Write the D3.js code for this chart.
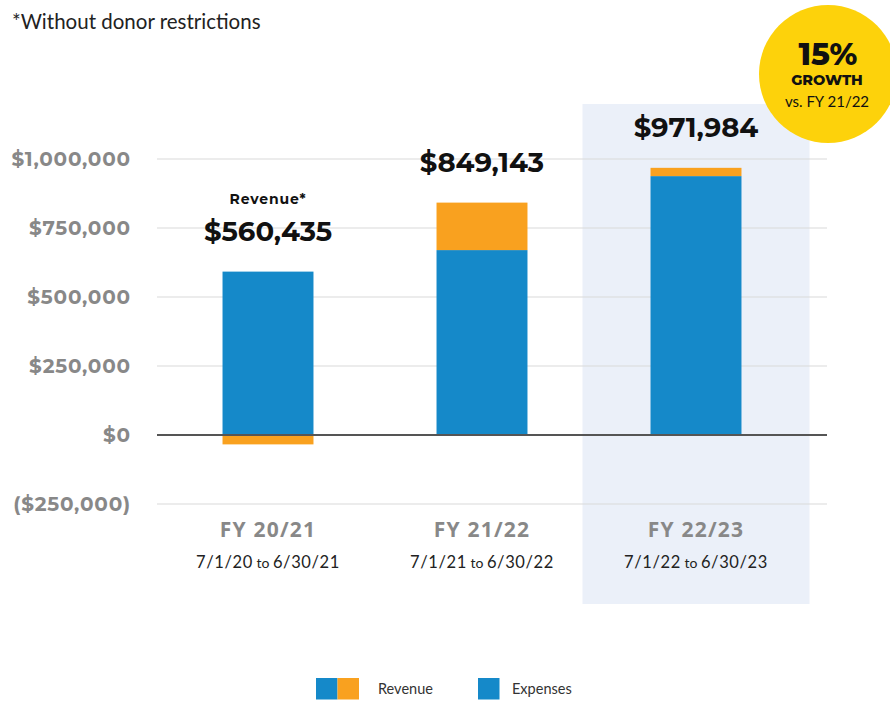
<!DOCTYPE html>
<html><head><meta charset="utf-8">
<script src="https://cdn.jsdelivr.net/npm/d3@7"></script>
<style>
html,body{margin:0;padding:0;background:#fff;}
svg{display:block;}
</style></head>
<body>
<svg id="chart" width="890" height="701"></svg>
<script>
const categories = ["FY 20/21", "FY 21/22", "FY 22/23"];
const periodStart = ["7/1/20", "7/1/21", "7/1/22"];
const periodEnd = ["6/30/21", "6/30/22", "6/30/23"];
const expenses = [592000, 670000, 938000];
const netRevenue = [-34000, 172000, 30000];
const revenueLabels = ["$560,435", "$849,143", "$971,984"];
const yTicks = [-250000, 0, 250000, 500000, 750000, 1000000];
const highlightIndex = 2;

const blue = "#1589C9", orange = "#F9A11F";
const svg = d3.select("#chart");

const x = d3.scaleBand().domain(categories).range([161, 803]).paddingInner(0.575).paddingOuter(0.2875);
const y = d3.scaleLinear().domain([-250000, 1000000]).range([504, 159]);

// highlight background
const hc = x(categories[highlightIndex]) + x.bandwidth() / 2;
svg.append("rect").attr("x", hc - 113.5).attr("y", 104).attr("width", 227).attr("height", 500).attr("fill", "#EBF0F9");

// grid
const fmt = v => v < 0 ? "($" + d3.format(",")(-v) + ")" : "$" + d3.format(",")(v);
svg.append("g").selectAll("line").data(yTicks.filter(t => t !== 0)).join("line")
  .attr("x1", 157).attr("x2", 827).attr("y1", d => y(d)).attr("y2", d => y(d))
  .attr("stroke", "#d9d9d9").attr("stroke-width", 1.2);
svg.append("g").selectAll("text").data(yTicks).join("text")
  .attr("x", 131).attr("y", d => y(d) + 7).attr("text-anchor", "end")
  .attr("font-family", "Montserrat, 'Open Sans', sans-serif").attr("font-weight", 700)
  .attr("font-size", 20).attr("letter-spacing", 0.8).attr("fill", "#888").text(fmt);

// bars
const bars = svg.append("g");
categories.forEach((c, i) => {
  const x0 = x(c), w = x.bandwidth();
  bars.append("rect").attr("x", x0).attr("width", w)
    .attr("y", y(expenses[i])).attr("height", y(0) - y(expenses[i])).attr("fill", blue);
  if (netRevenue[i] >= 0) {
    bars.append("rect").attr("x", x0).attr("width", w)
      .attr("y", y(expenses[i] + netRevenue[i])).attr("height", y(expenses[i]) - y(expenses[i] + netRevenue[i])).attr("fill", orange);
  } else {
    bars.append("rect").attr("x", x0).attr("width", w)
      .attr("y", y(0)).attr("height", y(netRevenue[i]) - y(0)).attr("fill", orange);
  }
});

// zero line
svg.append("line").attr("x1", 157).attr("x2", 827).attr("y1", y(0)).attr("y2", y(0))
  .attr("stroke", "#555").attr("stroke-width", 2);

// value labels
categories.forEach((c, i) => {
  const cx = x(c) + x.bandwidth() / 2;
  const top = y(expenses[i] + Math.max(0, netRevenue[i]));
  svg.append("text").attr("x", cx).attr("y", top - 31).attr("text-anchor", "middle")
    .attr("font-family", "Montserrat, 'Open Sans', sans-serif").attr("font-weight", 700)
    .attr("font-size", 27.5).attr("fill", "#111").text(revenueLabels[i]);
  if (i === 0) {
    svg.append("text").attr("x", cx).attr("y", top - 68).attr("text-anchor", "middle")
      .attr("font-family", "Montserrat, 'Open Sans', sans-serif").attr("font-weight", 700)
      .attr("font-size", 14).attr("fill", "#111").attr("letter-spacing", 0.9).text("Revenue*");
  }
  // category labels
  svg.append("text").attr("x", cx).attr("y", 537).attr("text-anchor", "middle")
    .attr("font-family", "'Open Sans', sans-serif").attr("font-weight", 700)
    .attr("font-size", 21).attr("letter-spacing", 1.2).attr("fill", "#888").text(c);
  const t = svg.append("text").attr("x", cx).attr("y", 568).attr("text-anchor", "middle")
    .attr("font-family", "Lato, sans-serif").attr("font-size", 16.5).attr("fill", "#222")
    .attr("letter-spacing", 0.6);
  t.append("tspan").text(periodStart[i]);
  t.append("tspan").attr("font-size", 14).attr("letter-spacing", 0).text(" to ");
  t.append("tspan").text(periodEnd[i]);
});

// footnote
svg.append("text").attr("x", 12).attr("y", 29).attr("font-family", "Lato, sans-serif")
  .attr("font-size", 20.5).attr("fill", "#222").text("*Without donor restrictions");

// badge
svg.append("circle").attr("cx", 828).attr("cy", 74).attr("r", 69).attr("fill", "#FDD20B");
svg.append("text").attr("x", 828).attr("y", 65).attr("text-anchor", "middle")
  .attr("font-family", "Montserrat, 'Open Sans', sans-serif").attr("font-weight", 800)
  .attr("font-size", 31).attr("fill", "#111").text("15%");
svg.append("text").attr("x", 827).attr("y", 85).attr("text-anchor", "middle")
  .attr("font-family", "Montserrat, 'Open Sans', sans-serif").attr("font-weight", 800)
  .attr("font-size", 14.5).attr("fill", "#111").text("GROWTH");
svg.append("text").attr("x", 827).attr("y", 107).attr("text-anchor", "middle")
  .attr("font-family", "Lato, sans-serif")
  .attr("font-size", 15).attr("fill", "#111").text("vs. FY 21/22");

// legend
const lg = svg.append("g");
lg.append("rect").attr("x", 316).attr("y", 678).attr("width", 21.5).attr("height", 21.5).attr("fill", blue);
lg.append("rect").attr("x", 337.5).attr("y", 678).attr("width", 21.5).attr("height", 21.5).attr("fill", orange);
lg.append("text").attr("x", 378).attr("y", 694).attr("font-family", "Lato, sans-serif")
  .attr("font-size", 14.5).attr("fill", "#333").text("Revenue");
lg.append("rect").attr("x", 478).attr("y", 678).attr("width", 21.5).attr("height", 21.5).attr("fill", blue);
lg.append("text").attr("x", 512).attr("y", 694).attr("font-family", "Lato, sans-serif")
  .attr("font-size", 14.5).attr("fill", "#333").text("Expenses");
</script>
</body></html>
